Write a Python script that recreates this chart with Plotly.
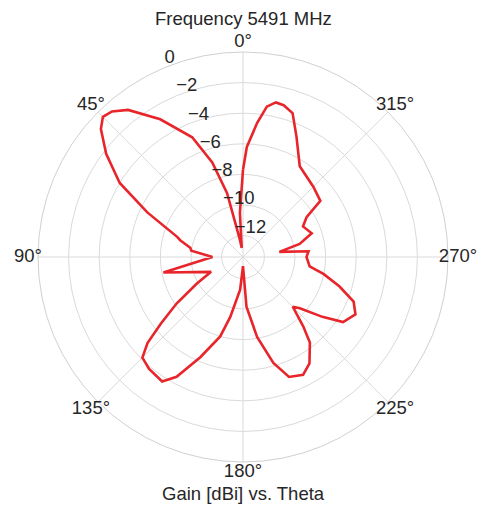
import plotly.graph_objects as go

theta_deg = [0, 4, 8, 10, 14, 18, 23, 31, 38, 42, 45, 48, 53, 59, 65, 73, 75, 80, 83, 90,
             101, 115, 120, 125, 129, 132, 135, 140, 147, 151, 157, 164, 168, 175, 180,
             184, 190, 196, 201, 207, 212, 218, 221, 225, 228, 233, 237, 243, 248, 253,
             258, 262, 270, 275, 278, 283, 289, 297, 302, 306, 315, 328, 336, 341, 345,
             348, 351, 354, 358, 360]
gain_dbi = [-7.7, -10.5, -12.8, -12.3, -9.1, -6.9, -4.9, -2.9, -1.2, -0.6, -0.45, -0.9, -2.2, -4.0, -6.5, -8.9, -9.15, -9.9, -10.0, -11.4,
            -8.1, -11.1, -9.9, -8.1, -6.5, -5.0, -4.1, -3.85, -3.7, -4.45, -6.3, -8.0, -9.4, -11.25, -12.8,
            -10.15, -8.1, -6.2, -5.0, -4.75, -5.2, -6.3, -7.4, -8.8, -8.4, -6.9, -5.6, -5.15, -5.6, -6.8,
            -8.0, -9.0, -9.25, -9.1, -11.0, -9.6, -8.65, -9.0, -8.5, -7.15, -6.9, -6.4, -4.8, -3.45, -3.13,
            -3.07, -3.45, -4.6, -6.2, -7.7]

angle_ticks = [0, 45, 90, 135, 180, 225, 270, 315]
angle_labels = ["0°", "45°", "90°", "135°", "180°", "225°", "270°", "315°"]
radial_ticks = [-12, -10, -8, -6, -4, -2, 0]
radial_labels = ["−12", "−10", "−8", "−6", "−4", "−2", "0"]

title_text = "Frequency 5491 MHz"
xlabel_text = "Gain [dBi] vs. Theta"

FONT = "Arial, Liberation Sans, sans-serif"
FS = 18.5
TXT = "#262626"
R_MIN, R_MAX = -13.4, 0
RLABEL_THETA = 22.5          # matplotlib-style radial label position

# plot area is 430x430 px; the data polar uses the inner 410 px,
# the label ring (polar2) uses the full 430 px so angle labels sit just outside
INNER = [10 / 430, 420 / 430]

fig = go.Figure()
fig.add_trace(go.Scatterpolar(
    r=gain_dbi, theta=theta_deg, mode="lines",
    line=dict(color="#e8252b", width=2.6),
    showlegend=False, hoverinfo="skip", subplot="polar",
))
# radial tick labels (left/bottom aligned at the tick value, like matplotlib)
fig.add_trace(go.Scatterpolar(
    r=radial_ticks, theta=[RLABEL_THETA] * len(radial_ticks),
    mode="text", text=radial_labels, textposition="top right",
    textfont=dict(size=FS, color=TXT, family=FONT),
    cliponaxis=False, showlegend=False, hoverinfo="skip", subplot="polar",
))
# angular tick labels on the outer label ring
fig.add_trace(go.Scatterpolar(
    r=[1] * len(angle_ticks), theta=angle_ticks,
    mode="text", text=angle_labels, textposition="middle center",
    textfont=dict(size=FS, color=TXT, family=FONT),
    cliponaxis=False, showlegend=False, hoverinfo="skip", subplot="polar2",
))

hidden_axis = dict(visible=False, showgrid=False, showline=False, showticklabels=False, ticks="")

# page body has an 8px margin, so the figure is sized/positioned to compensate
fig.update_layout(
    width=484, height=499,
    margin=dict(l=20, r=34, t=34, b=35, autoexpand=False),
    paper_bgcolor="white",
    font=dict(family=FONT, size=FS, color=TXT),
    polar=dict(
        bgcolor="white",
        domain=dict(x=INNER, y=INNER),
        angularaxis=dict(
            rotation=90, direction="counterclockwise",
            tickmode="array", tickvals=angle_ticks, showticklabels=False,
            showline=True, linecolor="#d0d0d0", linewidth=1,
            gridcolor="#dadada", gridwidth=1, ticks="",
        ),
        radialaxis=dict(
            range=[R_MIN, R_MAX],
            tickmode="array", tickvals=radial_ticks, showticklabels=False,
            showline=False, gridcolor="#dadada", gridwidth=1, ticks="",
        ),
    ),
    polar2=dict(
        bgcolor="rgba(0,0,0,0)",
        domain=dict(x=[0, 1], y=[0, 1]),
        angularaxis=dict(rotation=90, direction="counterclockwise", **hidden_axis),
        radialaxis=dict(range=[0, 1], **hidden_axis),
    ),
    annotations=[
        dict(text=title_text, x=0.5, y=1, xref="paper", yref="paper", xanchor="center",
             yanchor="middle", yshift=24, showarrow=False,
             font=dict(size=FS, color=TXT, family=FONT)),
        dict(text=xlabel_text, x=0.5, y=0, xref="paper", yref="paper", xanchor="center",
             yanchor="middle", yshift=-21, showarrow=False,
             font=dict(size=FS, color=TXT, family=FONT)),
    ],
)

fig.write_html("out.html")
